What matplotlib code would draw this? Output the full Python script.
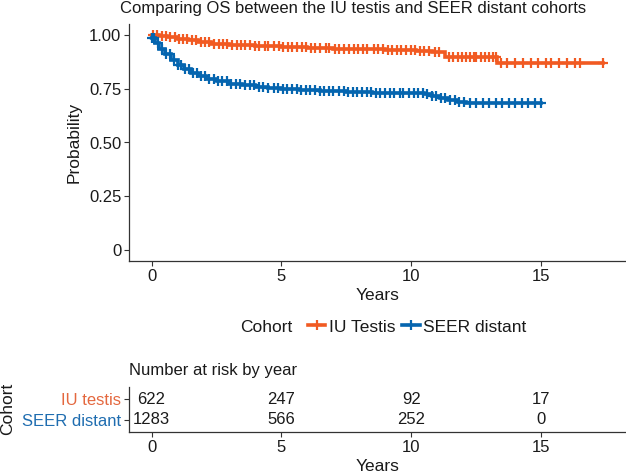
import matplotlib
matplotlib.use("Agg")
import matplotlib.pyplot as plt
import numpy as np
from matplotlib.lines import Line2D

plt.rcParams["font.family"] = ["Liberation Sans", "DejaVu Sans"]

ORANGE = "#F15A22"
BLUE = "#0565AF"
TXT = "#1A1A1A"

# Kaplan-Meier step estimates (years, survival)
iu_time = [0, 0.3, 0.6, 1.0, 1.4, 1.8, 2.3, 3.0, 4.0, 5.0, 6.0, 7.0, 8.0, 9.0,
           10.2, 10.8, 11.3, 13.3]
iu_surv = [1.0, 0.995, 0.99, 0.982, 0.975, 0.966, 0.958, 0.952, 0.947, 0.943,
           0.939, 0.935, 0.932, 0.929, 0.926, 0.921, 0.895, 0.867]
iu_end = 17.4
iu_censor = [0.05, 0.2, 0.4, 0.55, 0.7, 0.9, 1.05, 1.2, 1.35, 1.55, 1.7, 1.9,
             2.05, 2.2, 2.4, 2.6, 2.75, 2.9, 3.1, 3.3, 3.45, 3.6, 3.8, 4.0,
             4.15, 4.35, 4.5, 4.7, 4.9, 5.05, 5.25, 5.4, 5.6, 5.8, 5.95, 6.15,
             6.3, 6.5, 6.7, 6.85, 7.05, 7.2, 7.4, 7.6, 7.8, 7.95, 8.15, 8.3,
             8.55, 8.7, 8.9, 9.1, 9.25, 9.45, 9.6, 9.8, 10.0, 10.15, 10.35,
             10.5, 10.7, 10.9, 11.05, 11.45, 11.6, 11.8, 11.95, 12.1, 12.25,
             12.4, 12.5, 12.7, 12.85, 13.0, 13.15, 13.25, 13.45, 13.7, 14.0,
             14.3, 14.6, 14.9, 15.2, 15.4, 15.7, 16.0, 16.3, 16.5, 17.4]

seer_time = [0, 0.15, 0.3, 0.5, 0.75, 1.0, 1.25, 1.5, 1.8, 2.1, 2.5, 3.0, 3.5,
             4.0, 4.5, 5.0, 5.7, 6.5, 7.5, 8.5, 9.5, 10.5, 10.8, 11.1, 11.4,
             11.8, 12.1]
seer_surv = [0.985, 0.96, 0.935, 0.91, 0.885, 0.862, 0.84, 0.822, 0.808,
             0.795, 0.785, 0.772, 0.765, 0.758, 0.752, 0.748, 0.743, 0.738,
             0.733, 0.730, 0.728, 0.724, 0.718, 0.708, 0.698, 0.688, 0.684]
seer_end = 15.0
seer_censor = [0.0, 0.1, 0.25, 0.4, 0.55, 0.7, 0.85, 1.0, 1.15, 1.3, 1.45, 1.6,
               1.75, 1.9, 2.05, 2.2, 2.4, 2.55, 2.7, 2.9, 3.05, 3.25, 3.4, 3.6,
               3.8, 3.95, 4.15, 4.3, 4.5, 4.7, 4.85, 5.05, 5.2, 5.4, 5.6, 5.75,
               5.95, 6.1, 6.3, 6.5, 6.65, 6.85, 7.0, 7.2, 7.4, 7.55, 7.75, 7.9,
               8.1, 8.3, 8.45, 8.65, 8.8, 9.0, 9.2, 9.35, 9.55, 9.7, 9.9, 10.1,
               10.25, 10.45, 10.6, 10.8, 10.95, 11.15, 11.3, 11.5, 11.7, 11.85,
               12.05, 12.25, 12.5, 12.75, 13.0, 13.25, 13.5, 13.75, 14.0,
               14.25, 14.5, 14.75, 15.0]

# number at risk table
risk_years = [0, 5, 10, 15]
risk_iu = [622, 247, 92, 17]
risk_seer = [1283, 566, 252, 0]

W, H = 626, 473
fig = plt.figure(figsize=(W / 100, H / 100), dpi=100)

XLIM = (-0.87, 18.27)
FS = 12
LW = 2.6


def px_axes(l, t, r, b):
    return fig.add_axes([l / W, 1 - b / H, (r - l) / W, (b - t) / H])


def style(ax):
    for s in ("top", "right"):
        ax.spines[s].set_visible(False)
    for s in ("left", "bottom"):
        ax.spines[s].set_color("#333333")
        ax.spines[s].set_linewidth(0.9)
    ax.tick_params(length=3.5, width=0.8, color="#333333", labelcolor=TXT,
                   labelsize=FS, pad=2)


def km(ax, time, surv, end, censor, color):
    t = np.append(time, end)
    s = np.append(surv, surv[-1])
    ax.step(t, s, where="post", color=color, lw=LW, solid_joinstyle="miter")
    idx = np.searchsorted(time, censor, side="right") - 1
    ax.plot(censor, np.asarray(surv)[idx], ls="none", marker="+", ms=6.5,
            mew=1.6, color=color)


# --- survival curves ---
ax = px_axes(129, 24, 626, 261)
style(ax)
km(ax, iu_time, iu_surv, iu_end, iu_censor, ORANGE)
km(ax, seer_time, seer_surv, seer_end, seer_censor, BLUE)
ax.set_xlim(*XLIM)
ax.set_ylim(-0.05, 1.05)
ax.set_xticks([0, 5, 10, 15])
ax.set_yticks([0, 0.25, 0.5, 0.75, 1.0])
ax.set_yticklabels(["0", "0.25", "0.50", "0.75", "1.00"])
ax.set_xlabel("Years", fontsize=12.5, color=TXT, labelpad=3)
ax.set_ylabel("Probability", fontsize=12.5, color=TXT, labelpad=5)
fig.text(120 / W, 1 - 9 / H, "Comparing OS between the IU testis and SEER distant cohorts",
         fontsize=12, color=TXT, ha="left", va="center")

# legend
fig.text(240 / W, 1 - 327 / H, "Cohort", fontsize=12.5, color=TXT, ha="left", va="center")
handles = [Line2D([], [], color=ORANGE, lw=LW, marker="+", ms=6.5, mew=1.6),
           Line2D([], [], color=BLUE, lw=LW, marker="+", ms=6.5, mew=1.6)]
fig.legend(handles, ["IU Testis", "SEER distant"], ncol=2, frameon=False,
           loc="center left", bbox_to_anchor=(308 / W, 1 - 327 / H),
           fontsize=12.5, handlelength=1.0, handletextpad=0.2, columnspacing=0.4,
           borderaxespad=0, borderpad=0, labelcolor=TXT)

# --- risk table ---
rax = px_axes(129, 387, 626, 432)
style(rax)
rax.set_xlim(*XLIM)
rax.set_ylim(0.4, 2.6)
rax.set_xticks(risk_years)
rax.set_yticks([2, 1])
rax.set_yticklabels(["IU testis", "SEER distant"])
for lab, c in zip(rax.get_yticklabels(), ["#E4683F", "#1F6DB0"]):
    lab.set_color(c)
for x, n in zip(risk_years, risk_iu):
    rax.text(x, 2, str(n), ha="center", va="center", fontsize=FS, color=TXT)
for x, n in zip(risk_years, risk_seer):
    rax.text(x, 1, str(n), ha="center", va="center", fontsize=FS, color=TXT)
rax.set_xlabel("Years", fontsize=12.5, color=TXT, labelpad=3)
rax.set_title("Number at risk by year", fontsize=FS, color=TXT, loc="left", pad=9)
fig.text(8 / W, 1 - 409 / H, "Cohort", rotation=90, fontsize=12.5, color=TXT,
         ha="center", va="center")

fig.savefig("out.png", dpi=100)
